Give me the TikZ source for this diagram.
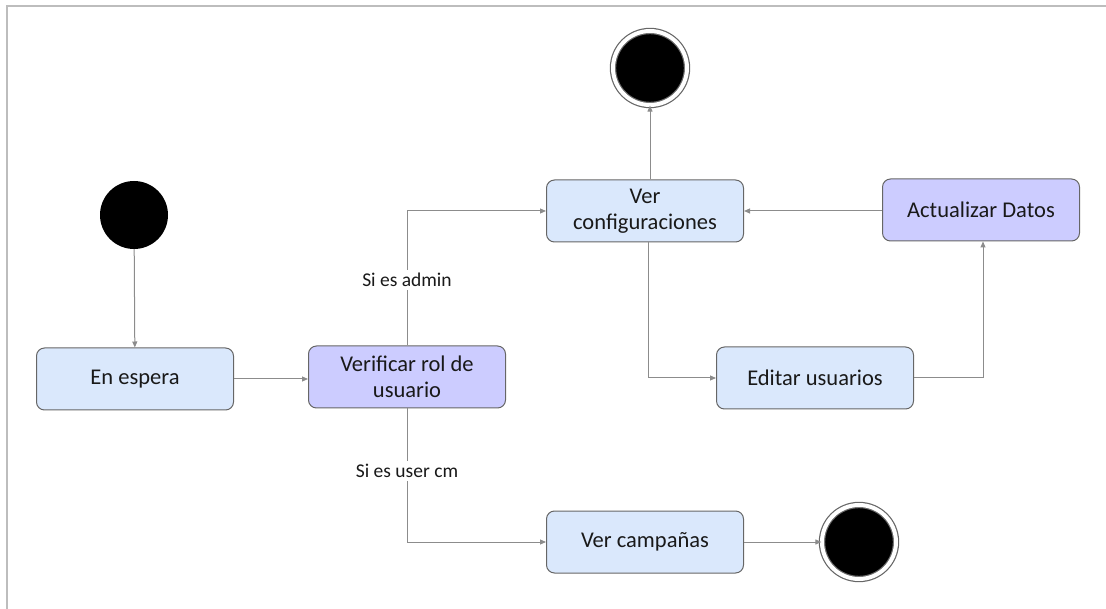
\documentclass[tikz,border=0pt]{standalone}
\usepackage{fontspec}
\setmainfont{Carlito}
\usetikzlibrary{arrows.meta}
\definecolor{stateblue}{HTML}{DAE8FC}
\definecolor{statepurple}{HTML}{CCCCFF}
\definecolor{edgegray}{HTML}{666666}
\definecolor{linkgray}{HTML}{8C8C8C}
\definecolor{framegray}{HTML}{BDBDBD}
\tikzset{
  statebox/.style={draw=edgegray, line width=1pt, rounded corners=8pt,
    minimum width=197pt, minimum height=62pt, align=center,
    font=\fontsize{22.5}{26}\selectfont, text=black!90, inner sep=2pt},
  bluebox/.style={statebox, fill=stateblue},
  purplebox/.style={statebox, fill=statepurple},
  startdot/.style={circle, fill=black, minimum size=68pt, inner sep=0pt},
  enddot/.style={circle, draw=edgegray, line width=1.2pt, fill=black,
    double=white, double distance=4pt, minimum size=74pt, inner sep=0pt},
  link/.style={draw=linkgray, line width=1pt, -{Triangle[length=6pt,width=5pt]}},
  guard/.style={font=\fontsize{19.5}{22}\selectfont, text=black!90, fill=white, inner sep=3pt}
}
\begin{document}
\begin{tikzpicture}[x=1pt, y=-1pt]
  \useasboundingbox (0,0) rectangle (1106,609);
  \draw[framegray, line width=2pt] (7,609) -- (7,6) -- (1106,6);

  % states
  \node[startdot] (start) at (134,215) {};
  \node[bluebox] (wait) at (135,379) {En espera};
  \node[purplebox] (check) at (407,377) {Verificar rol de\\usuario};
  \node[bluebox] (config) at (645,211) {Ver\\configuraciones};
  \node[purplebox] (update) at (981,210) {Actualizar Datos};
  \node[bluebox] (edit) at (815,378) {Editar usuarios};
  \node[bluebox] (camp) at (645,542) {Ver campañas};
  \node[enddot] (endtop) at (650,68) {};
  \node[enddot] (endbot) at (859,542) {};

  % transitions
  \draw[link] (start) -- (wait);
  \draw[link] (wait) -- (check.west |- wait);
  \draw[link] (check.north) |- (config.west);
  \draw[link] (check.south) |- (camp.west);
  \draw[link] (config.north -| endtop) -- (endtop.south);
  \draw[link] (config.south -| 648,0) |- (edit.west);
  \draw[link] (edit.east) -| (update.south -| 983,0);
  \draw[link] (update.west |- config) -- (config.east);
  \draw[link] (camp.east) -- (endbot.west);

  % guards
  \node[guard] (admin) at (407,280) {Si es admin};
  \node[guard] (usercm) at (407,471) {Si es user cm};
\end{tikzpicture}
\end{document}
